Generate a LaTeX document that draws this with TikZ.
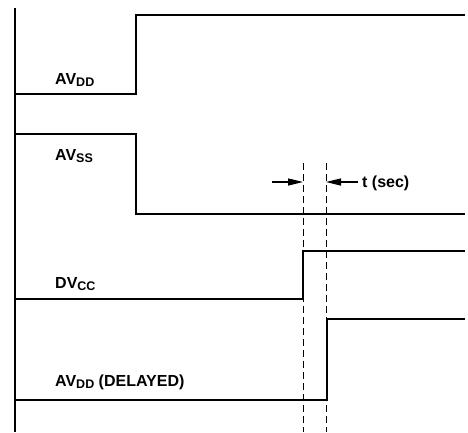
\documentclass[tikz,border=0pt]{standalone}
\usepackage{fontspec}
\setmainfont{Liberation Sans}
\usetikzlibrary{arrows.meta,positioning}
\newcommand{\lowidx}[1]{\raisebox{-0.35ex}{\fontsize{12.5}{14}\selectfont #1}}

\begin{document}
\begin{tikzpicture}[x=1pt, y=-1pt,
    wave/.style={line width=2pt, line join=miter},
    axis/.style={line width=1.3pt},
    guide/.style={dash pattern=on 7pt off 4pt, line width=0.8pt},
    arr/.style={-{Triangle[length=15pt, width=7pt]}, line width=1.3pt},
    lbl/.style={font=\fontsize{16}{18}\selectfont\bfseries, anchor=base west, inner sep=0pt},
  ]
  \useasboundingbox (0,0) rectangle (468,432);

  % vertical reference line
  \coordinate (top) at (15, 8);
  \coordinate (bot) at (15, 432);
  \draw[axis] (top) -- (bot);

  % AVDD: rises early
  \draw[wave] (15, 94) -- (136, 94) -- (136, 15) -- (465, 15);
  \node[lbl] (avdd) at (55, 84) {AV\lowidx{DD}};

  % AVSS: falls at the same time
  \draw[wave] (15, 134) -- (136, 134) -- (136, 214) -- (465, 214);
  \node[lbl] (avss) at (55, 160) {AV\lowidx{SS}};

  % DVCC: rises later
  \draw[wave] (15, 299) -- (303, 299) -- (303, 251) -- (465, 251);
  \node[lbl] (dvcc) at (55, 288) {DV\lowidx{CC}};

  % AVDD delayed: rises after t
  \draw[wave] (15, 400) -- (327, 400) -- (327, 319) -- (465, 319);
  \node[lbl] (avdl) at (55, 386) {AV\lowidx{DD} (DELAYED)};

  % dashed markers and the delay
  \coordinate (m1) at (303, 163);
  \coordinate (m2) at (326, 163);
  \draw[guide] (m1) -- (303, 432);
  \draw[guide] (m2) -- (326, 432);

  \coordinate (a1) at (272, 182);
  \coordinate (a2) at (358, 182);
  \draw[arr] (a1) -- (303, 182);
  \draw[arr] (a2) -- (326, 182);
  \node[lbl] (tsec) at (362, 187) {t (sec)};
\end{tikzpicture}
\end{document}
